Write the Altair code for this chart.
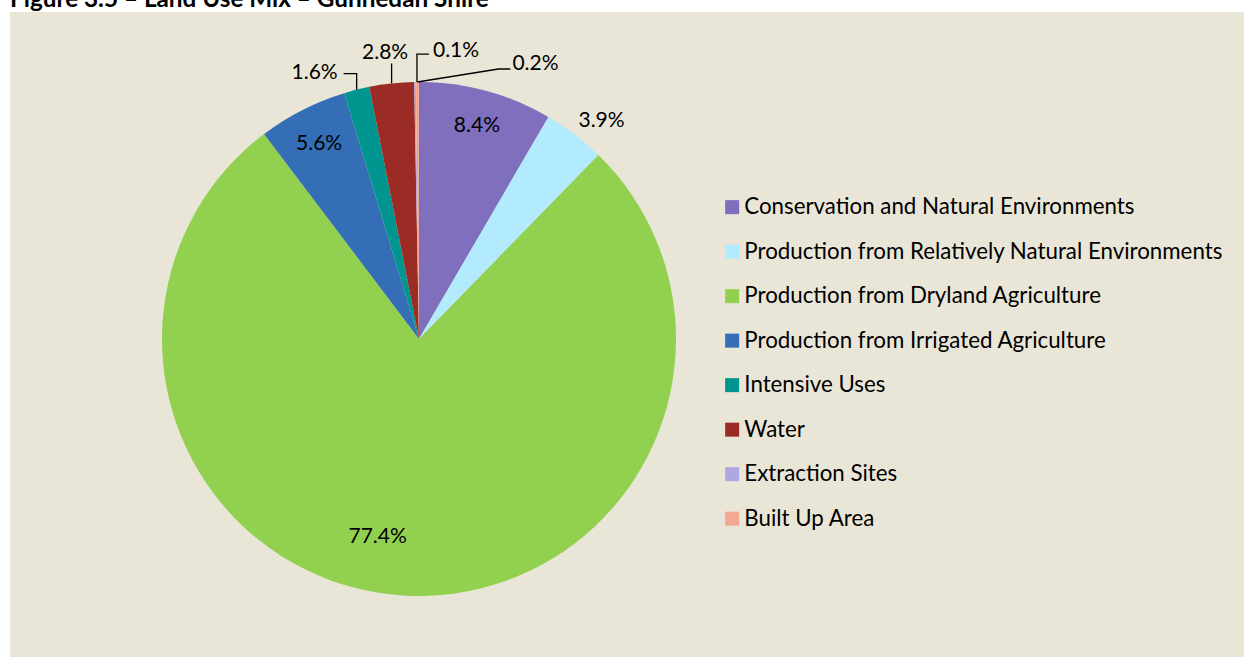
import math
import altair as alt
import pandas as pd

# ---------------- data ----------------
categories = [
    "Conservation and Natural Environments",
    "Production from Relatively Natural Environments",
    "Production from Dryland Agriculture",
    "Production from Irrigated Agriculture",
    "Intensive Uses",
    "Water",
    "Extraction Sites",
    "Built Up Area",
]
shares = [8.4, 3.9, 77.4, 5.6, 1.6, 2.8, 0.1, 0.2]
pct_labels = ["8.4%", "3.9%", "77.4%", "5.6%", "1.6%", "2.8%", "0.1%", "0.2%"]
title_text = "Figure 3.5 \u2013 Land Use Mix \u2013 Gunnedah Shire"

# ---------------- style ----------------
colors = ["#7F6FBD", "#B2EBFD", "#92D050", "#346EB6", "#00968F", "#9B2C25", "#B1A7E0", "#F2A893"]
BG = "#EAE6D7"
FONT = "Lato"
CX, CY, R = 409, 327, 257

# label placement styles: radial labels (radius, dx, dy) or leader labels
radial_style = {0: (222, 0, 0), 1: (285, 10, 8), 2: (197, -29, 0), 3: (220, 0, 0)}
leader_style = {
    4: ([(0, 0), (0, -16), (-13, -16)], (-19, -18), "right"),
    5: ([(0, 0), (0, -20)], (-6.5, -31.5), "center"),
    6: ([(2, 0), (2, -28), (14, -28)], (18, -32), "left"),
    7: ([(0, 0), (81, -13), (93, -13)], (95, -19), "left"),
}

total = sum(shares)
pie_df = pd.DataFrame({"category": categories, "share": shares, "idx": list(range(len(shares)))})

label_rows, leader_rows = [], []
cum = 0.0
for i, v in enumerate(shares):
    mid = 2 * math.pi * (cum + v / 2) / total
    cum += v
    s, c = math.sin(mid), math.cos(mid)
    if i in radial_style:
        r, dx, dy = radial_style[i]
        label_rows.append({"label": pct_labels[i], "x": CX + r * s + dx, "y": CY - r * c + dy + 1, "align": "center"})
    else:
        pts, (tx, ty), al = leader_style[i]
        ex, ey = CX + R * s, CY - R * c
        for k, (px, py) in enumerate(pts):
            leader_rows.append({"lid": i, "seq": k, "x": ex + px, "y": ey + py})
        label_rows.append({"label": pct_labels[i], "x": ex + tx, "y": ey + ty + 1, "align": al})

label_df = pd.DataFrame(label_rows)
leader_df = pd.DataFrame(leader_rows)

pie = alt.Chart(pie_df).mark_arc(outerRadius=R).encode(
    theta=alt.Theta("share:Q", stack=True),
    color=alt.Color(
        "category:N",
        scale=alt.Scale(domain=categories, range=colors),
        sort=categories,
        legend=alt.Legend(
            title=None, orient="none", legendX=711, legendY=184,
            symbolType="square", symbolSize=196, symbolStrokeWidth=0,
            labelFont=FONT, labelFontSize=22.3, labelColor="black",
            rowPadding=21.5, labelOffset=1, padding=0, labelLimit=700,
        ),
    ),
    order=alt.Order("idx:Q"),
    x=alt.value(CX),
    y=alt.value(CY),
)

leaders = alt.Chart(leader_df).mark_line(color="black", strokeWidth=1.3).encode(
    x=alt.X("x:Q", scale=None, axis=None),
    y=alt.Y("y:Q", scale=None, axis=None),
    detail="lid:N",
    order="seq:Q",
)

text_layers = []
for al in ["center", "left", "right"]:
    text_layers.append(
        alt.Chart(label_df).transform_filter(alt.datum.align == al).mark_text(
            align=al, baseline="middle", font=FONT, fontSize=21, color="black"
        ).encode(
            x=alt.X("x:Q", scale=None, axis=None),
            y=alt.Y("y:Q", scale=None, axis=None),
            text="label:N",
        )
    )

title = alt.Chart(pd.DataFrame({"t": [title_text]})).mark_text(
    align="left", baseline="alphabetic", font=FONT, fontSize=24.3, fontWeight="bold", color="black"
).encode(text="t:N", x=alt.value(0), y=alt.value(-5))

chart = alt.layer(pie, leaders, *text_layers, title).properties(
    width=1234, height=645,
    padding={"left": 10, "top": 12, "right": 0, "bottom": 0},
    autosize=alt.AutoSizeParams(type="none"),
    background="white",
).configure_view(fill=BG, stroke=None)

chart.save("out.html", embed_options={"renderer": "svg", "actions": False})
